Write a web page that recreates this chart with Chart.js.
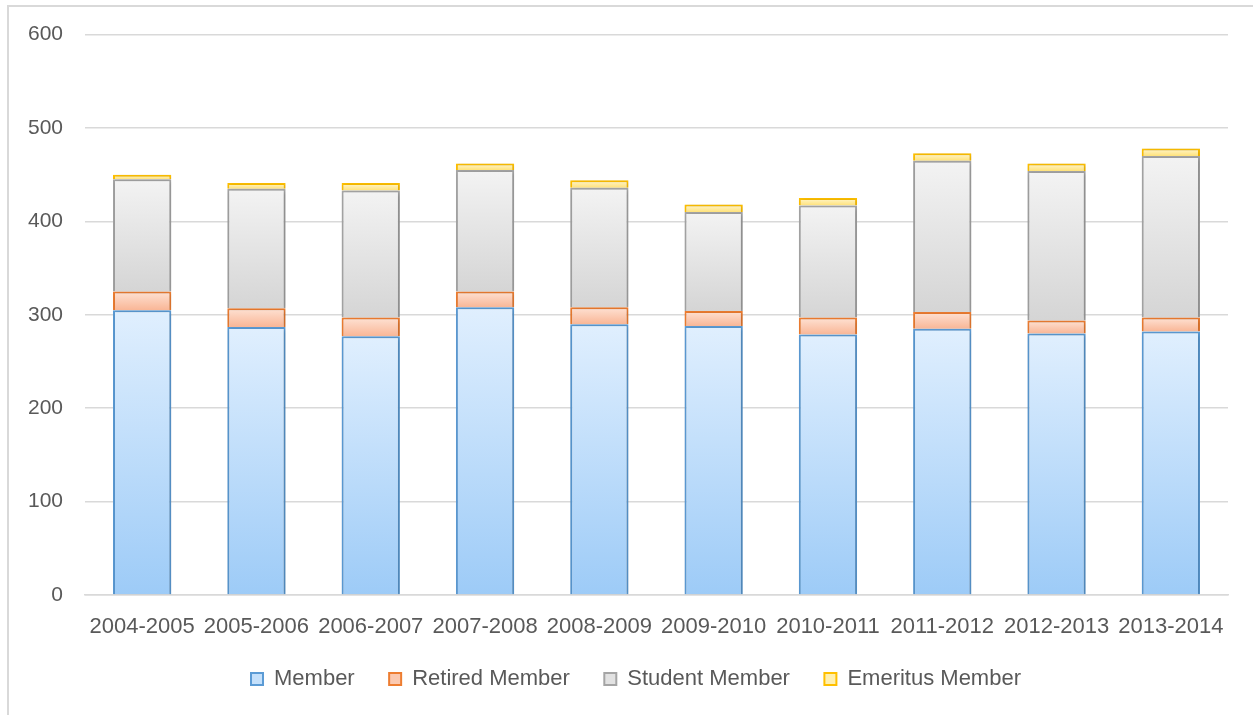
<!DOCTYPE html>
<html>
<head>
<meta charset="utf-8">
<script src="https://cdn.jsdelivr.net/npm/chart.js@4.4.1/dist/chart.umd.min.js"></script>
<style>
  body { margin: 0; background: #fff; }
  #wrap { position: relative; width: 1253px; height: 715px; }
  #marco { position: absolute; left: 7px; top: 5px; right: -5px; bottom: -5px; border-top: 2px solid #d9d9d9; border-left: 2px solid #d9d9d9; pointer-events: none; }
</style>
</head>
<body>
<div id="wrap">
  <canvas id="membersChart" width="1253" height="715"></canvas>
  <div id="marco"></div>
</div>
<script>
// ====== Datos ======
const periodos = ['2004-2005', '2005-2006', '2006-2007', '2007-2008', '2008-2009', '2009-2010', '2010-2011', '2011-2012', '2012-2013', '2013-2014'];
const member = [305, 287, 277, 308, 290, 288, 279, 285, 280, 282];
const retiredMember = [20, 20, 20, 17, 18, 16, 18, 18, 14, 15];
const studentMember = [120, 128, 136, 130, 128, 106, 120, 162, 160, 173];
const emeritusMember = [5, 6, 8, 7, 8, 8, 8, 8, 8, 8];
const yTicks = [0, 100, 200, 300, 400, 500, 600];

const series = [member, retiredMember, studentMember, emeritusMember];
const textColor = '#595959';
const fuenteY = { family: "'Liberation Sans', Arial, sans-serif", size: 21 };
const fuente = { family: "'Liberation Sans', Arial, sans-serif", size: 22 };

// gradiente vertical por barra (claro arriba, oscuro abajo)
function gradiente(idx, arriba, abajo) {
    return (ctx) => {
        const chart = ctx.chart;
        if (ctx.type !== 'data' || !chart.chartArea || !chart.scales.y) return abajo;
        const i = ctx.dataIndex;
        let base = 0;
        for (let s = 0; s < idx; s++) base += series[s][i];
        const tope = base + series[idx][i];
        const y0 = chart.scales.y.getPixelForValue(base);
        const y1 = chart.scales.y.getPixelForValue(tope);
        if (!isFinite(y0) || !isFinite(y1) || y0 === y1) return abajo;
        const g = chart.ctx.createLinearGradient(0, y1, 0, y0);
        g.addColorStop(0, arriba);
        g.addColorStop(1, abajo);
        return g;
    };
}

// sombra suave bajo las barras
const sombra = {
    id: 'sombra',
    beforeDatasetsDraw(chart) {
        const c = chart.ctx;
        c.save();
        c.shadowColor = 'rgba(0,0,0,0.22)';
        c.shadowBlur = 4;
        c.shadowOffsetX = 1;
        c.shadowOffsetY = 1;
    },
    afterDatasetsDraw(chart) {
        chart.ctx.restore();
    }
};

// la leyenda del original esta centrada en el lienzo completo, no en 0..1228
const moverLeyenda = {
    id: 'moverLeyenda',
    afterLayout(chart) {
        if (chart.legend) {
            chart.legend.left += 22;
            chart.legend.right += 22;
        }
    }
};

// espacios al final para separar los items como en el original
const sep = '\u00a0\u00a0\u00a0\u00a0';
const leyenda = [
    { text: 'Member' + sep, fill: '#c4e0fb', stroke: '#5b9bd5' },
    { text: 'Retired Member' + sep, fill: '#fbc9b0', stroke: '#ed7d31' },
    { text: 'Student Member' + sep, fill: '#e2e2e2', stroke: '#a5a5a5' },
    { text: 'Emeritus Member', fill: '#fff0b0', stroke: '#ffc000' }
];

// ====== Grafico apilado ======
const ctxMembers = document.getElementById('membersChart').getContext('2d');
const membersChart = new Chart(ctxMembers, {
    type: 'bar',
    data: {
        labels: periodos,
        datasets: [
            {
                label: 'Member',
                data: member,
                backgroundColor: gradiente(0, '#e0effe', '#9dcbf7'),
                borderColor: '#5b9bd5',
                borderWidth: 2
            },
            {
                label: 'Retired Member',
                data: retiredMember,
                backgroundColor: gradiente(1, '#fee2d4', '#f9b696'),
                borderColor: '#ed7d31',
                borderWidth: 2
            },
            {
                label: 'Student Member',
                data: studentMember,
                backgroundColor: gradiente(2, '#f3f3f3', '#d5d5d5'),
                borderColor: '#a5a5a5',
                borderWidth: 2
            },
            {
                label: 'Emeritus Member',
                data: emeritusMember,
                backgroundColor: gradiente(3, '#fff6cf', '#ffe27a'),
                borderColor: '#ffc000',
                borderWidth: 2
            }
        ]
    },
    options: {
        responsive: false,
        animation: false,
        devicePixelRatio: 1,
        layout: { padding: { left: 0, right: 25, top: 34, bottom: 15 } },
        datasets: { bar: { barPercentage: 0.51, categoryPercentage: 1 } },
        scales: {
            x: {
                stacked: true,
                grid: { display: false, drawTicks: false },
                border: { display: true, color: '#d9d9d9', width: 1.5 },
                ticks: { color: textColor, font: fuente, padding: 19, maxRotation: 0 },
                afterFit(scale) { scale.height = 63; }
            },
            y: {
                stacked: true,
                min: 0,
                max: 600,
                afterBuildTicks(scale) { scale.ticks = yTicks.map(v => ({ value: v })); },
                grid: { color: '#d9d9d9', lineWidth: 1.5, drawTicks: false },
                border: { display: false },
                ticks: { color: textColor, font: fuenteY, padding: 22 },
                afterFit(scale) { scale.width = 85; }
            }
        },
        plugins: {
            legend: {
                position: 'bottom',
                labels: {
                    color: textColor,
                    font: fuente,
                    boxWidth: 12,
                    boxHeight: 12,
                    padding: 10,
                    generateLabels: () => leyenda.map((l, i) => ({
                        text: l.text,
                        fillStyle: l.fill,
                        strokeStyle: l.stroke,
                        lineWidth: 2,
                        fontColor: textColor,
                        datasetIndex: i,
                        hidden: false
                    }))
                }
            },
            tooltip: { enabled: false }
        }
    },
    plugins: [sombra, moverLeyenda]
});
</script>
</body>
</html>
